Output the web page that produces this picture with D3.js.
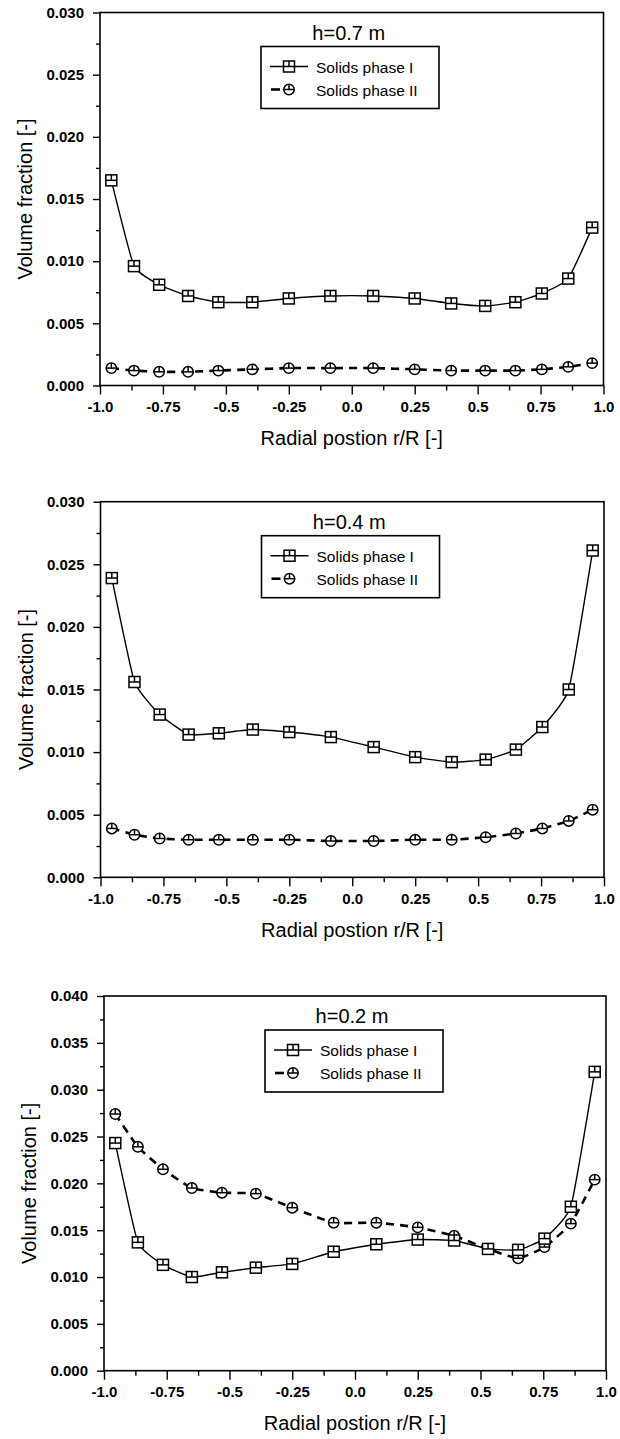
<!DOCTYPE html>
<html>
<head>
<meta charset="utf-8">
<script src="https://cdn.jsdelivr.net/npm/d3@7"></script>
<style>
  body { margin: 0; background: #fff; }
  svg { display: block; font-family: "Liberation Sans", Arial, Helvetica, sans-serif; }
  .tick text { font-weight: bold; }
</style>
</head>
<body>
<svg width="620" height="1439"></svg>
<script>
// radial positions of the measuring points (r/R)
const radialPos = [-0.955, -0.865, -0.765, -0.65, -0.53, -0.395, -0.25, -0.085,
                   0.085, 0.25, 0.395, 0.53, 0.65, 0.755, 0.86, 0.955];

// h = 0.7 m
const phaseI_07  = [0.0165, 0.0096, 0.0081, 0.0072, 0.0067, 0.0067, 0.0070, 0.0072,
                    0.0072, 0.0070, 0.0066, 0.0064, 0.0067, 0.0074, 0.0086, 0.0127];
const phaseII_07 = [0.0014, 0.0012, 0.0011, 0.0011, 0.0012, 0.0013, 0.0014, 0.0014,
                    0.0014, 0.0013, 0.0012, 0.0012, 0.0012, 0.0013, 0.0015, 0.0018];

// h = 0.4 m
const phaseI_04  = [0.0239, 0.0156, 0.0130, 0.0114, 0.0115, 0.0118, 0.0116, 0.0112,
                    0.0104, 0.0096, 0.0092, 0.0094, 0.0102, 0.0120, 0.0150, 0.0261];
const phaseII_04 = [0.0039, 0.0034, 0.0031, 0.0030, 0.0030, 0.0030, 0.0030, 0.0029,
                    0.0029, 0.0030, 0.0030, 0.0032, 0.0035, 0.0039, 0.0045, 0.0054];

// h = 0.2 m
const phaseI_02  = [0.0243, 0.0137, 0.0113, 0.0100, 0.0105, 0.0110, 0.0114, 0.0127,
                    0.0135, 0.0140, 0.0139, 0.0130, 0.0129, 0.0141, 0.0175, 0.0319];
const phaseII_02 = [0.0274, 0.0239, 0.0215, 0.0195, 0.0190, 0.0189, 0.0174, 0.0158,
                    0.0158, 0.0153, 0.0144, 0.0130, 0.0120, 0.0132, 0.0157, 0.0204];

// axis ticks
const xTicks      = [-1.0, -0.75, -0.5, -0.25, 0.0, 0.25, 0.5, 0.75, 1.0];
const xTickLabels = ["-1.0", "-0.75", "-0.5", "-0.25", "0.0", "0.25", "0.5", "0.75", "1.0"];
const seriesNames = ["Solids phase I", "Solids phase II"];
const xTitle = "Radial postion r/R [-]";
const yTitle = "Volume fraction [-]";

const svg = d3.select("svg");

const panels = [
  {title: "h=0.7 m", yMax: 0.030, left: 100, right: 603.5, top: 12.5,  bottom: 385.5,  s1: phaseI_07, s2: phaseII_07},
  {title: "h=0.4 m", yMax: 0.030, left: 100.5, right: 604, top: 501.7, bottom: 877.3,  s1: phaseI_04, s2: phaseII_04},
  {title: "h=0.2 m", yMax: 0.040, left: 104, right: 606,   top: 996,   bottom: 1370.7, s1: phaseI_02, s2: phaseII_02}
];

panels.forEach(drawPanel);

function drawPanel(p) {
  const x = d3.scaleLinear().domain([-1, 1]).range([p.left, p.right]);
  const y = d3.scaleLinear().domain([0, p.yMax]).range([p.bottom, p.top]);
  const g = svg.append("g");

  // y axis: major + minor ticks
  const yMajor = d3.range(0, p.yMax + 1e-9, 0.005);
  const yMinor = d3.range(0.0025, p.yMax, 0.005);
  g.append("g")
    .attr("transform", `translate(${p.left},0)`)
    .call(d3.axisLeft(y).tickValues(yMinor).tickSize(4).tickFormat(""))
    .call(a => a.select(".domain").remove());
  g.append("g")
    .attr("transform", `translate(${p.left},0)`)
    .call(d3.axisLeft(y).tickValues(yMajor).tickSize(7).tickPadding(9).tickFormat(d3.format(".3f")))
    .call(a => a.select(".domain").remove())
    .call(a => a.selectAll("text").attr("font-size", 15).attr("fill", "#000"));

  // x axis
  const xMinor = d3.range(-0.875, 1, 0.25);
  g.append("g")
    .attr("transform", `translate(0,${p.bottom})`)
    .call(d3.axisBottom(x).tickValues(xMinor).tickSize(5).tickFormat(""))
    .call(a => a.select(".domain").remove());
  g.append("g")
    .attr("transform", `translate(0,${p.bottom})`)
    .call(d3.axisBottom(x).tickValues(xTicks).tickSize(9).tickPadding(7)
      .tickFormat((d, i) => xTickLabels[i]))
    .call(a => a.select(".domain").remove())
    .call(a => a.selectAll("text").attr("font-size", 15).attr("fill", "#000"));

  g.selectAll(".tick line").attr("stroke", "#000").attr("stroke-width", 1.4);

  // frame
  g.append("rect")
    .attr("x", p.left).attr("y", p.top)
    .attr("width", p.right - p.left).attr("height", p.bottom - p.top)
    .attr("fill", "none").attr("stroke", "#000").attr("stroke-width", 1.6);

  const pts1 = radialPos.map((r, i) => [r, p.s1[i]]);
  const pts2 = radialPos.map((r, i) => [r, p.s2[i]]);

  // slightly smoothed, close to straight segments
  const line = d3.line()
    .curve(d3.curveCardinal.tension(0.6))
    .x(d => x(d[0]))
    .y(d => y(d[1]));

  g.append("path").datum(pts2).attr("d", line)
    .attr("fill", "none").attr("stroke", "#000")
    .attr("stroke-width", 2.6).attr("stroke-dasharray", "8,6");
  g.append("path").datum(pts1).attr("d", line)
    .attr("fill", "none").attr("stroke", "#000").attr("stroke-width", 1.4);

  pts2.forEach(d => circleMarker(g, x(d[0]), y(d[1])));
  pts1.forEach(d => squareMarker(g, x(d[0]), y(d[1])));

  // panel title
  g.append("text")
    .attr("x", (p.left + p.right) / 2 - 3)
    .attr("y", p.top + 27)
    .attr("text-anchor", "middle")
    .attr("font-size", 20)
    .text(p.title);

  // legend
  const lx = p.left + 161, ly = p.top + 34;
  const lg = g.append("g").attr("transform", `translate(${lx},${ly})`);
  lg.append("rect").attr("width", 178).attr("height", 62)
    .attr("fill", "#fff").attr("stroke", "#000").attr("stroke-width", 1.6);
  lg.append("line").attr("x1", 9).attr("x2", 47).attr("y1", 20).attr("y2", 20)
    .attr("stroke", "#000").attr("stroke-width", 1.4);
  squareMarker(lg, 28, 20);
  lg.append("line").attr("x1", 10).attr("x2", 19).attr("y1", 43).attr("y2", 43)
    .attr("stroke", "#000").attr("stroke-width", 2.6);
  circleMarker(lg, 28, 43);
  lg.selectAll("text.leg")
    .data(seriesNames)
    .enter()
    .append("text")
    .attr("class", "leg")
    .attr("x", 55)
    .attr("y", (d, i) => 26 + i * 23)
    .attr("font-size", 15.5)
    .text(d => d);

  // axis titles
  g.append("text")
    .attr("x", (p.left + p.right) / 2)
    .attr("y", p.bottom + 59.5)
    .attr("text-anchor", "middle")
    .attr("font-size", 20)
    .text(xTitle);
  g.append("text")
    .attr("transform", `translate(${p.left - 68},${(p.top + p.bottom) / 2}) rotate(-90)`)
    .attr("text-anchor", "middle")
    .attr("font-size", 20)
    .text(yTitle);
}

function squareMarker(sel, cx, cy) {
  const s = 5.5;
  const m = sel.append("g").attr("transform", `translate(${cx},${cy})`)
    .attr("stroke", "#000").attr("stroke-width", 1.5);
  m.append("rect").attr("x", -s).attr("y", -s).attr("width", 2 * s).attr("height", 2 * s)
    .attr("fill", "#fff");
  m.append("line").attr("x1", -s).attr("x2", s).attr("y1", 0).attr("y2", 0);
  m.append("line").attr("x1", 0).attr("x2", 0).attr("y1", -s).attr("y2", 0);
}

function circleMarker(sel, cx, cy) {
  const r = 5.2;
  const m = sel.append("g").attr("transform", `translate(${cx},${cy})`)
    .attr("stroke", "#000").attr("stroke-width", 1.5);
  m.append("circle").attr("r", r).attr("fill", "#fff");
  m.append("line").attr("x1", -r).attr("x2", r).attr("y1", 0).attr("y2", 0);
  m.append("line").attr("x1", 0).attr("x2", 0).attr("y1", -r).attr("y2", 0);
}
</script>
</body>
</html>
